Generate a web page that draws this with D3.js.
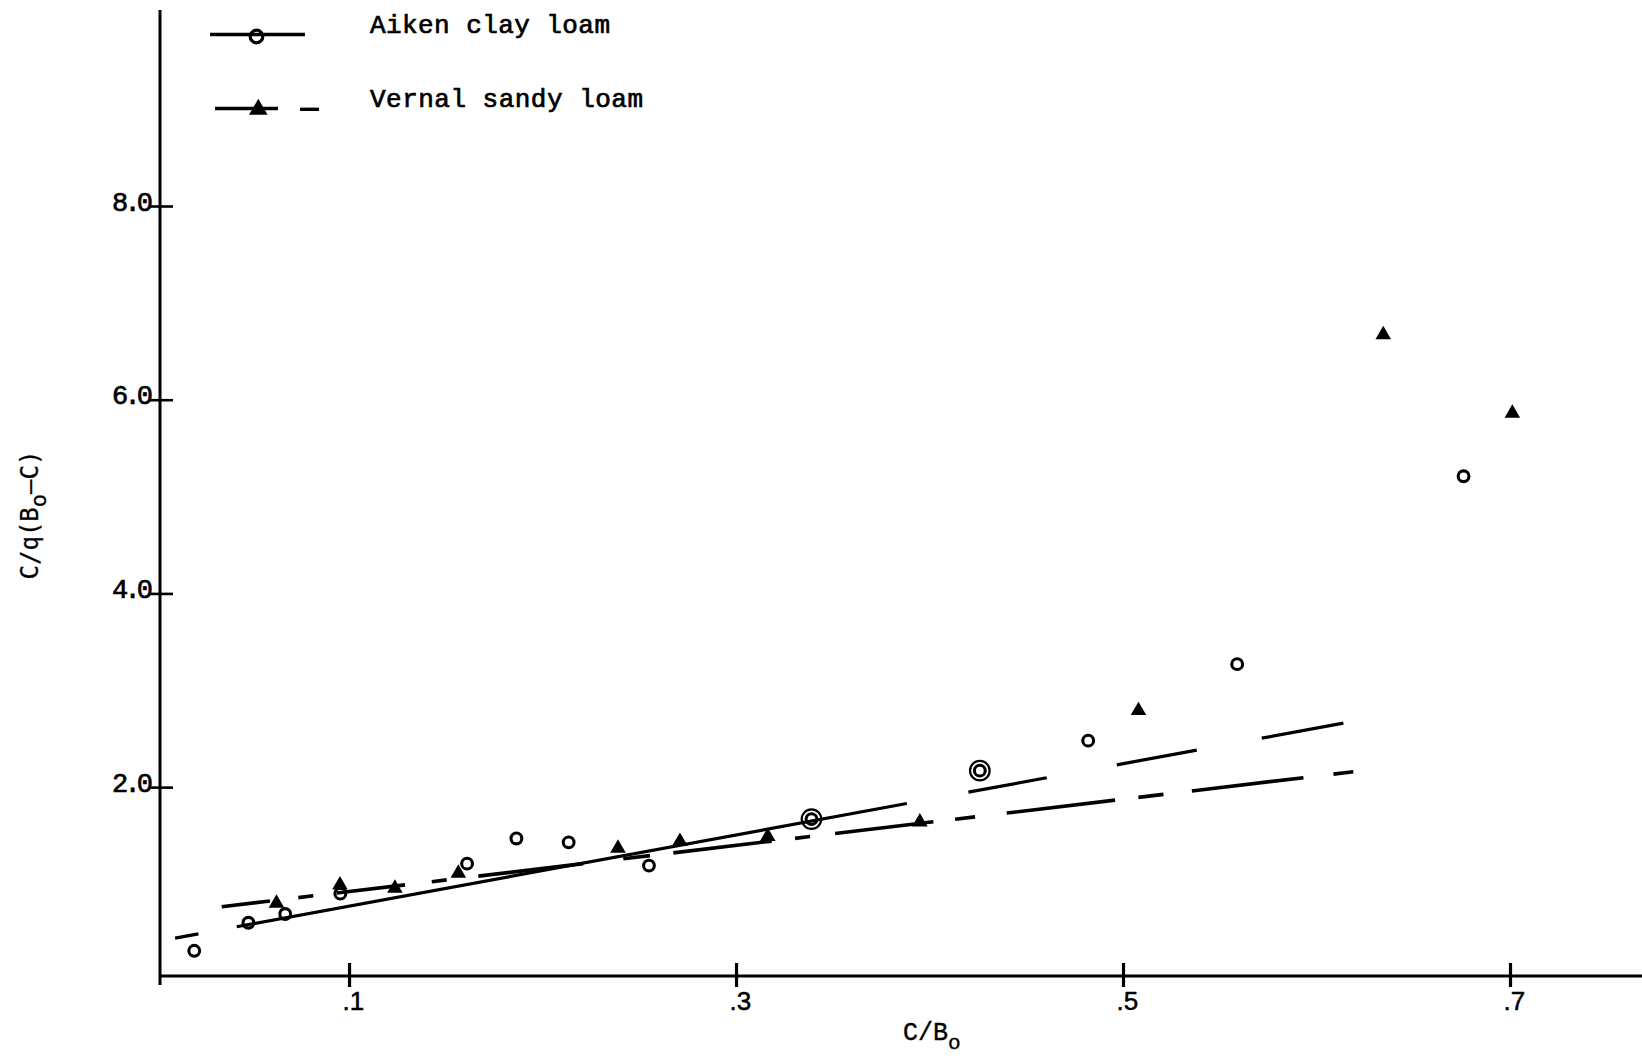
<!DOCTYPE html>
<html>
<head>
<meta charset="utf-8">
<script src="https://cdn.jsdelivr.net/npm/d3@7"></script>
<style>
  html, body { margin: 0; padding: 0; background: #fff; }
  svg { display: block; }
</style>
</head>
<body>
<svg id="chart" width="1642" height="1058"></svg>
<script>
// Aiken clay loam: C/B0 against C/q(B0-C); repeated entries are coincident readings
const aikenX = [0.020, 0.048, 0.067, 0.0955, 0.161, 0.1865, 0.2135, 0.255, 0.339, 0.339, 0.426, 0.426, 0.482, 0.559, 0.676];
const aikenY = [0.31, 0.60, 0.69, 0.90, 1.21, 1.47, 1.43, 1.19, 1.67, 1.67, 2.17, 2.17, 2.48, 3.27, 5.21];

// Vernal sandy loam
const vernalX = [0.0625, 0.0953, 0.1237, 0.1565, 0.239, 0.271, 0.3164, 0.395, 0.508, 0.6345, 0.7012];
const vernalY = [0.80, 0.99, 0.955, 1.11, 1.37, 1.44, 1.49, 1.64, 2.79, 6.67, 5.86];

// straight-line fits, given by their end points
const aikenFitX = [0.0101, 0.614];
const aikenFitY = [0.441, 2.661];
const vernalFitX = [0.0342, 0.619];
const vernalFitY = [0.765, 2.159];

const xTicks = [0.1, 0.3, 0.5, 0.7];
const xTickLabels = [".1", ".3", ".5", ".7"];
const yTicks = [2, 4, 6, 8];
const yTickLabels = ["2.0", "4.0", "6.0", "8.0"];
const seriesNames = ["Aiken clay loam", "Vernal sandy loam"];

const W = 1642, H = 1058;
const svg = d3.select("#chart");
const ink = "#000";

// axes cross at the lower ends of both domains
const x = d3.scaleLinear().domain([0.0023, 0.7]).range([160, 1510]);
const y = d3.scaleLinear().domain([0.05, 8]).range([976, 206]);
const x0 = x.range()[0], y0 = y.range()[0];

const typeFont = "'Liberation Mono', 'DejaVu Sans Mono', monospace";
const sansFont = "'Liberation Sans', Arial, sans-serif";

// ---- axis lines ----
svg.append("line").attr("x1", x0).attr("x2", x0).attr("y1", 10).attr("y2", y0 + 9)
  .attr("stroke", ink).attr("stroke-width", 3);
svg.append("line").attr("x1", x0 - 1).attr("x2", W).attr("y1", y0).attr("y2", y0)
  .attr("stroke", ink).attr("stroke-width", 3);

// ---- x axis ticks and labels ----
const gx = svg.append("g").attr("transform", `translate(0,${y0})`)
  .call(d3.axisBottom(x).tickValues(xTicks).tickFormat((d, i) => xTickLabels[i]));
gx.select(".domain").remove();
gx.selectAll(".tick line").attr("y1", -13).attr("y2", 11)
  .attr("stroke", ink).attr("stroke-width", 3.2);
gx.selectAll(".tick text")
  .attr("y", 34).attr("dy", 0).attr("x", -7)
  .attr("text-anchor", "start")
  .attr("fill", ink)
  .attr("stroke", ink).attr("stroke-width", 0.5)
  .style("font-family", sansFont).style("font-size", "26px");

// ---- y axis ticks and labels ----
const gy = svg.append("g").attr("transform", `translate(${x0},0)`)
  .call(d3.axisLeft(y).tickValues(yTicks).tickFormat((d, i) => yTickLabels[i]));
gy.select(".domain").remove();
gy.selectAll(".tick line").attr("x1", -11).attr("x2", 13)
  .attr("stroke", ink).attr("stroke-width", 2.6);
gy.selectAll(".tick text")
  .attr("x", -48).attr("dy", 0).attr("y", 4)
  .attr("text-anchor", "start")
  .attr("textLength", 41).attr("lengthAdjust", "spacing")
  .attr("fill", ink)
  .style("font-family", typeFont).style("font-size", "27px")
  .attr("stroke", ink).attr("stroke-width", 0.7);

// ---- axis titles ----
const xTitle = svg.append("text")
  .attr("x", 903).attr("y", 1040)
  .attr("fill", ink)
  .style("font-family", typeFont).style("font-size", "25px")
  .attr("stroke", ink).attr("stroke-width", 0.4);
xTitle.append("tspan").text("C/B");
xTitle.append("tspan").attr("dy", 9).style("font-size", "21px").text("o");

const yTitle = svg.append("text")
  .attr("transform", "translate(38,515) rotate(-90)")
  .attr("text-anchor", "middle")
  .attr("fill", ink)
  .attr("stroke", ink).attr("stroke-width", 0.3)
  .style("font-family", "'DejaVu Sans Mono', monospace").style("font-size", "24px");
yTitle.append("tspan").text("C/q(B");
yTitle.append("tspan").attr("dy", 8).style("font-size", "22px").text("o");
yTitle.append("tspan").attr("dy", -8).text("–C)");

// ---- fitted lines ----
const lineGen = d3.line().x(d => x(d[0])).y(d => y(d[1]));

// Aiken: short lead-in, solid over the data, dashed extrapolation
svg.append("path")
  .datum(d3.zip(aikenFitX, aikenFitY))
  .attr("d", lineGen)
  .attr("fill", "none").attr("stroke", ink).attr("stroke-width", 3.2)
  .attr("stroke-dasharray", "23.7 39 681.3 62.6 79.7 71.2 81.3 66.1 83 2000");

// Vernal: alternating long and short dashes
svg.append("path")
  .datum(d3.zip(vernalFitX, vernalFitY))
  .attr("d", lineGen)
  .attr("fill", "none").attr("stroke", ink).attr("stroke-width", 3.6)
  .attr("stroke-dasharray",
    "48.6 28.5 15.1 23.6 68.8 26.9 15.1 31.8 105.7 40.3 26.9 23.5 99.1 23.5 15.1 25.2 99 21.9 20.1 31.9 109.1 23.5 25.2 28.6 112.4 30.2 20.1 2000");

// ---- points ----
// open circles; a repeated reading gets an extra, wider ring
const aikenPts = d3.zip(aikenX, aikenY);
const seen = new Map();
const rings = aikenPts.map(p => {
  const k = p.join(",");
  const n = seen.get(k) || 0;
  seen.set(k, n + 1);
  return { p, n };
});
svg.append("g").selectAll("circle")
  .data(rings)
  .join("circle")
  .attr("cx", d => x(d.p[0]))
  .attr("cy", d => y(d.p[1]))
  .attr("r", d => 5.4 + d.n * 4.4)
  .attr("fill", "none")
  .attr("stroke", ink)
  .attr("stroke-width", d => d.n ? 2.2 : 3.1);

// filled triangles
const tri = d3.symbol().type(d3.symbolTriangle).size(105);
svg.append("g").selectAll("path")
  .data(d3.zip(vernalX, vernalY))
  .join("path")
  .attr("transform", d => `translate(${x(d[0])},${y(d[1])})`)
  .attr("d", tri)
  .attr("fill", ink);

// ---- legend ----
const leg = svg.append("g");
leg.append("line").attr("x1", 210).attr("x2", 305).attr("y1", 34.5).attr("y2", 34.5)
  .attr("stroke", ink).attr("stroke-width", 3.4);
leg.append("circle").attr("cx", 256.5).attr("cy", 36.5).attr("r", 6.3)
  .attr("fill", "none").attr("stroke", ink).attr("stroke-width", 3.2);
leg.append("line").attr("x1", 215).attr("x2", 278).attr("y1", 108.5).attr("y2", 108.5)
  .attr("stroke", ink).attr("stroke-width", 3.4);
leg.append("line").attr("x1", 300).attr("x2", 319).attr("y1", 109.3).attr("y2", 109.3)
  .attr("stroke", ink).attr("stroke-width", 3.4);
leg.append("path").attr("transform", "translate(258.3,109.5)")
  .attr("d", d3.symbol().type(d3.symbolTriangle).size(150))
  .attr("fill", ink);

leg.selectAll("text.name")
  .data(seriesNames)
  .join("text")
  .attr("class", "name")
  .attr("x", 370)
  .attr("y", (d, i) => i ? 106.7 : 33.3)
  .attr("textLength", (d, i) => i ? 273 : 240)
  .attr("lengthAdjust", "spacing")
  .attr("fill", ink)
  .attr("stroke", ink).attr("stroke-width", 0.7)
  .style("font-family", typeFont).style("font-size", "26px")
  .text(d => d);
</script>
</body>
</html>
